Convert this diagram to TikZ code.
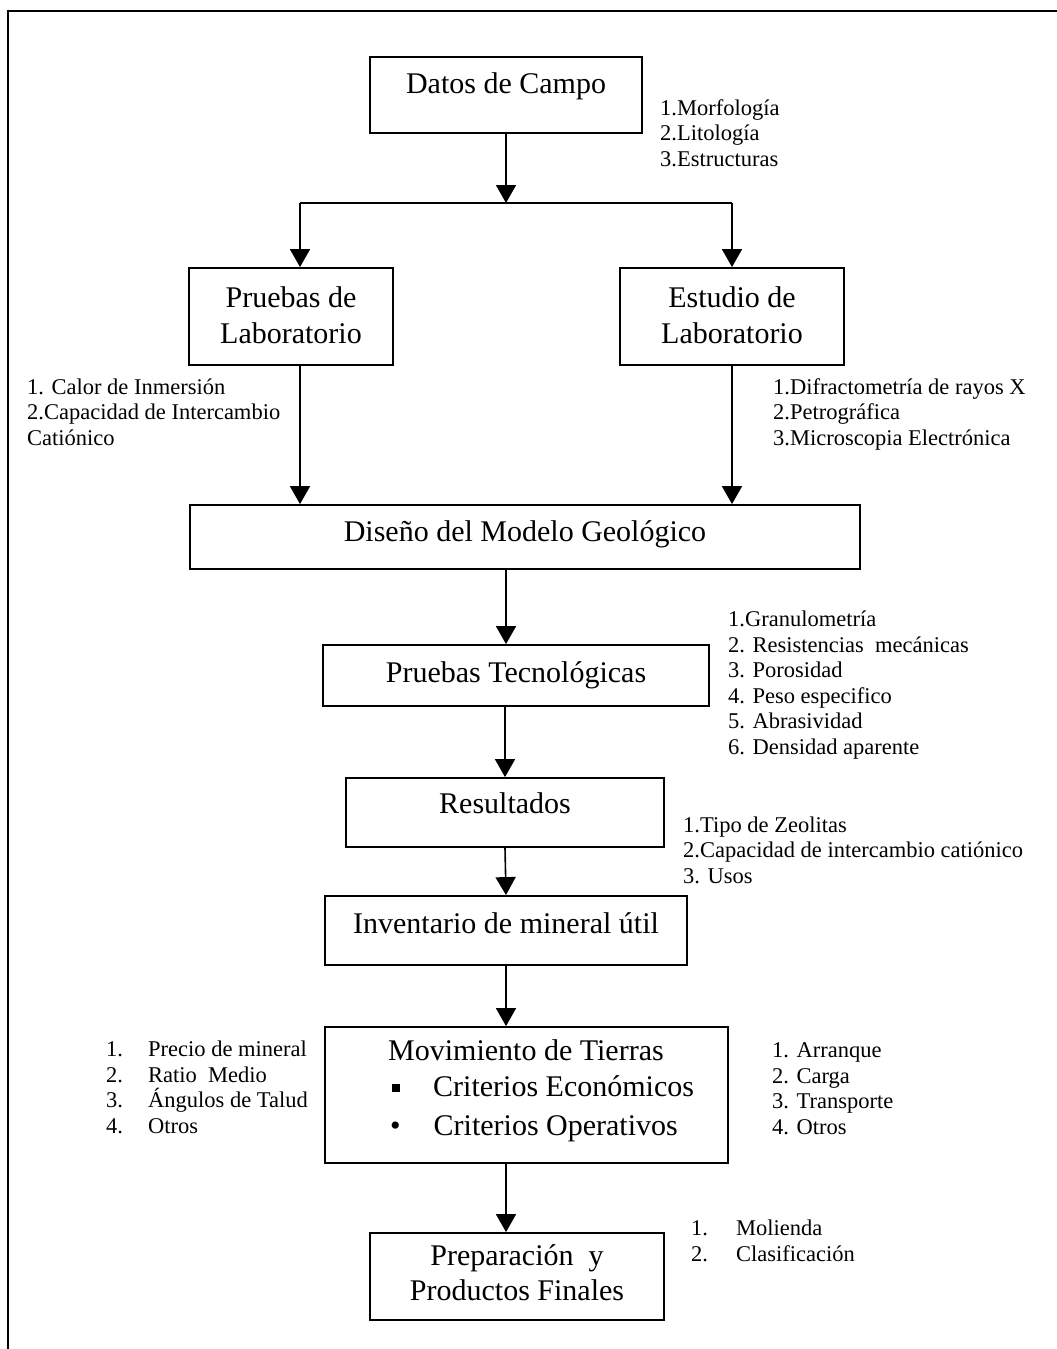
\documentclass[tikz,border=0pt]{standalone}
\usepackage{fontspec}
\setmainfont{Liberation Serif}
\usetikzlibrary{arrows.meta}

\newcommand{\boxfont}{\fontsize{30}{36}\selectfont}
\newcommand{\listfont}{\fontsize{22.5}{25.5}\selectfont}

\tikzset{
  block/.style={draw, line width=1.8pt, inner sep=0pt, anchor=base, align=center, font=\boxfont},
  notes/.style={anchor=base west, inner sep=0pt, align=left, font=\listfont},
  arr/.style={line width=1.6pt, -{Triangle[length=18pt,width=20pt]}},
}

\begin{document}
\begin{tikzpicture}[x=1pt,y=-1pt]
  \useasboundingbox (0,0) rectangle (1057,1349);

  % Frame (only top and left side)
  \draw[line width=1.6pt] (8,1349) -- (8,11) -- (1057,11);

  % Main blocks (anchored at the baseline of their last line)
  \node[block, minimum width=272pt, text height=36pt, text depth=40pt] (dc) at (506,93) {Datos de Campo};
  \node[block, minimum width=204pt, text height=75pt, text depth=22pt] (pl) at (291,343) {Pruebas de\\Laboratorio};
  \node[block, minimum width=224pt, text height=75pt, text depth=22pt] (el) at (732,343) {Estudio de\\Laboratorio};
  \node[block, minimum width=670pt, text height=36pt, text depth=28pt] (dm) at (525,541) {Diseño del Modelo Geológico};
  \node[block, minimum width=386pt, text height=37pt, text depth=24pt] (pt) at (516,682) {Pruebas Tecnológicas};
  \node[block, minimum width=318pt, text height=35pt, text depth=34pt] (rs) at (505,813) {Resultados};
  \node[block, minimum width=362pt, text height=37pt, text depth=32pt] (im) at (506,933) {Inventario de mineral útil};
  \node[draw, line width=1.8pt, minimum width=403pt, minimum height=136pt] (mt) at (526.5,1095) {};
  \node[anchor=base west, inner sep=0pt, align=left, font=\boxfont] (mt-t) at (388,1135)
    {Movimiento de Tierras\\
     \hspace*{4pt}\rule[4pt]{8pt}{8pt}\hspace{33pt}Criterios Económicos\\[3pt]
     \hspace*{2pt}\textbullet\hspace{33pt}Criterios Operativos};
  \node[block, minimum width=294pt, text height=67pt, text depth=20pt, font=\fontsize{30}{35}\selectfont] (pp) at (517,1300) {Preparación\ \ y\\Productos Finales};

  % Split point under Datos de Campo
  \coordinate (split) at (506,203);
  \coordinate (sl) at (300,203);
  \coordinate (sr) at (732,203);

  % Connectors
  \draw[arr] (dc.south) -- (split);
  \draw[line width=1.6pt] (sl) -- (sr);
  \draw[arr] (sl) -- (sl |- pl.north);
  \draw[arr] (sr) -- (sr |- el.north);
  \draw[arr] (pl.south -| sl) -- (sl |- dm.north);
  \draw[arr] (el.south) -- (el.south |- dm.north);
  \draw[arr] (dm.south -| dc.south) -- (pt.north -| dc.south);
  \draw[arr] (pt.south -| rs.north) -- (rs.north);
  \draw[arr] (rs.south) -- (im.north);
  \draw[arr] (im.south) -- (mt.north -| im.south);
  \draw[arr] (mt.south -| im.south) -- (pp.north -| im.south);

  % Notes beside the blocks (anchored at their last line)
  \node[notes] (n-dc) at (660,166) {1.Morfología\\2.Litología\\3.Estructuras};
  \node[notes] (n-pl) at (27,445) {1. Calor de Inmersión\\2.Capacidad de Intercambio\\Catiónico};
  \node[notes] (n-el) at (773,445) {1.Difractometría de rayos X\\2.Petrográfica\\3.Microscopia Electrónica};
  \node[notes] (n-pt) at (728,754) {1.Granulometría\\2. Resistencias\ \ mecánicas\\3. Porosidad\\4. Peso especifico\\5. Abrasividad\\6. Densidad aparente};
  \node[notes] (n-rs) at (683,883) {1.Tipo de Zeolitas\\2.Capacidad de intercambio catiónico\\3. Usos};
  \node[notes] (n-mt1) at (106,1133) {\makebox[42pt][l]{1.}Precio de mineral\\\makebox[42pt][l]{2.}Ratio\ \ Medio\\\makebox[42pt][l]{3.}Ángulos de Talud\\\makebox[42pt][l]{4.}Otros};
  \node[notes] (n-mt2) at (772,1134) {1. Arranque\\2. Carga\\3. Transporte\\4. Otros};
  \node[notes] (n-pp) at (691,1261) {\makebox[45pt][l]{1.}Molienda\\\makebox[45pt][l]{2.}Clasificación};

\end{tikzpicture}
\end{document}
